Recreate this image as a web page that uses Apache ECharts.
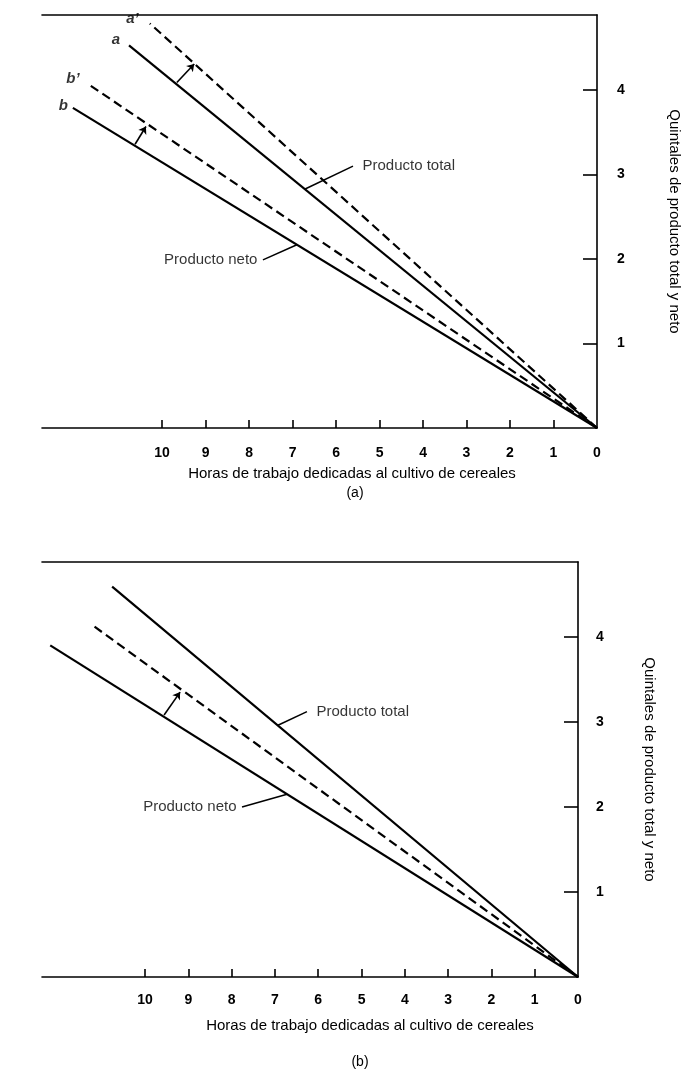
<!DOCTYPE html>
<html><head><meta charset="utf-8">
<script src="https://cdn.jsdelivr.net/npm/echarts@6/dist/echarts.min.js"></script>
<style>html,body{margin:0;padding:0;background:#fff}#c{width:683px;height:1073px}</style>
</head><body><div id="c"></div>
<script>
// ---- shared tick data ----
const xTickValues = [1, 2, 3, 4, 5, 6, 7, 8, 9, 10];
const xLabelValues = [0, 1, 2, 3, 4, 5, 6, 7, 8, 9, 10];
const yTickValues = [1, 2, 3, 4];
const xTitle = 'Horas de trabajo dedicadas al cultivo de cereales';
const yTitle = 'Quintales de producto total y neto';
const panelCaptions = ['(a)', '(b)'];
const leaderTexts = ['Producto total', 'Producto neto'];

// ---- panel (a): [hours, quintales] ----
const aTotal = [[0, 0], [10.76, 4.53]];
const aTotalShifted = [[0, 0], [10.28, 4.79]];
const aNetShifted = [[0, 0], [11.72, 4.08]];
const aNet = [[0, 0], [12.05, 3.79]];
const aTagNames = ['a’', 'a', 'b’', 'b'];
const aTagPoints = [[10.68, 4.84], [11.06, 4.60], [12.05, 4.13], [12.27, 3.81]];
const aArrows = [[[9.66, 4.09], [9.26, 4.31]], [[10.62, 3.36], [10.37, 3.57]]];
const aLeaders = [[[6.71, 2.83], [5.61, 3.10]], [[6.90, 2.17], [7.68, 1.99]]];

// ---- panel (b) ----
const bTotal = [[0, 0], [10.76, 4.59]];
const bNetShifted = [[0, 0], [11.25, 4.15]];
const bNet = [[0, 0], [12.19, 3.90]];
const bArrows = [[[9.56, 3.08], [9.19, 3.35]]];
const bLeaders = [[[6.93, 2.96], [6.26, 3.12]], [[6.72, 2.15], [7.76, 2.00]]];

const FONT = 'Liberation Sans';
const INK = '#000';

function bottomX(gi, max, margin) {
  return {
    type: 'value', gridIndex: gi, inverse: true, min: 0, max: max, position: 'bottom',
    axisLine: { show: true, onZero: false, lineStyle: { color: INK, width: 1.6 } },
    axisTick: { show: true, inside: true, length: 8, customValues: xTickValues, lineStyle: { color: INK, width: 1.6 } },
    axisLabel: { show: true, customValues: xLabelValues, margin: margin, color: INK, fontFamily: FONT, fontWeight: 'bold', fontSize: 14 },
    splitLine: { show: false }
  };
}
function topX(gi, max) {
  return {
    type: 'value', gridIndex: gi, inverse: true, min: 0, max: max, position: 'top',
    axisLine: { show: true, onZero: false, lineStyle: { color: INK, width: 1.6 } },
    axisTick: { show: false }, axisLabel: { show: false }, splitLine: { show: false }
  };
}
function rightY(gi, max, margin, gap) {
  return {
    type: 'value', gridIndex: gi, min: 0, max: max, position: 'right',
    name: yTitle, nameLocation: 'middle', nameRotate: -90, nameGap: gap,
    nameTextStyle: { color: INK, fontFamily: FONT, fontSize: 15 },
    axisLine: { show: true, onZero: false, lineStyle: { color: INK, width: 1.6 } },
    axisTick: { show: true, inside: true, length: 14, customValues: yTickValues, lineStyle: { color: INK, width: 1.6 } },
    axisLabel: { show: true, customValues: yTickValues, margin: margin, color: INK, fontFamily: FONT, fontWeight: 'bold', fontSize: 14 },
    splitLine: { show: false }
  };
}
function curve(data, dashed, gi) {
  return {
    type: 'line', xAxisIndex: gi * 2, yAxisIndex: gi, data: data, symbol: 'none', silent: true,
    lineStyle: { color: '#000', width: 2.2, type: dashed ? [9, 5] : 'solid' }
  };
}
function arrows(list, gi) {
  return {
    type: 'lines', coordinateSystem: 'cartesian2d', xAxisIndex: gi * 2, yAxisIndex: gi, silent: true,
    symbol: ['none', 'arrow'], symbolSize: 7,
    lineStyle: { color: '#000', width: 1.6, opacity: 1 },
    data: list.map(c => ({ coords: c }))
  };
}
function leaders(list, gi) {
  return {
    type: 'lines', coordinateSystem: 'cartesian2d', xAxisIndex: gi * 2, yAxisIndex: gi, silent: true,
    lineStyle: { color: '#000', width: 1.5, opacity: 1 },
    data: list.map(c => ({ coords: c }))
  };
}
function leaderLabels(list, gi) {
  return {
    type: 'scatter', xAxisIndex: gi * 2, yAxisIndex: gi, silent: true, symbolSize: 1,
    itemStyle: { color: 'rgba(0,0,0,0)' },
    data: list.map((c, i) => ({
      value: c[1],
      label: {
        show: true, position: i === 0 ? 'right' : 'left', distance: i === 0 ? 9 : 5,
        formatter: leaderTexts[i], color: INK, fontFamily: FONT, fontSize: 15
      }
    }))
  };
}
function tags(points, names, gi) {
  return {
    type: 'scatter', xAxisIndex: gi * 2, yAxisIndex: gi, silent: true, symbolSize: 1,
    itemStyle: { color: 'rgba(0,0,0,0)' },
    data: points.map((p, i) => ({
      value: p,
      label: { show: true, position: 'inside', formatter: names[i], color: INK, fontFamily: FONT, fontWeight: 'bold', fontStyle: 'italic', fontSize: 15 }
    }))
  };
}

const chart = echarts.init(document.getElementById('c'), null, { renderer: 'canvas' });
chart.setOption({
  animation: false,
  backgroundColor: '#fff',
  grid: [
    { left: 42, right: 86, top: 15, bottom: 645, outerBoundsMode: 'none', containLabel: false },
    { left: 42, right: 105, top: 562, bottom: 96, outerBoundsMode: 'none', containLabel: false }
  ],
  xAxis: [bottomX(0, 12.76, 18), topX(0, 12.76), bottomX(1, 12.38, 16), topX(1, 12.38)],
  yAxis: [rightY(0, 4.89, 20, 70), rightY(1, 4.88, 18, 64)],
  graphic: [
    { type: 'text', style: { text: xTitle, x: 352, y: 474, align: 'center', verticalAlign: 'middle', fill: INK, font: '15px "Liberation Sans"' } },
    { type: 'text', style: { text: panelCaptions[0], x: 355, y: 493, align: 'center', verticalAlign: 'middle', fill: INK, font: '14px "Liberation Sans"' } },
    { type: 'text', style: { text: xTitle, x: 370, y: 1026, align: 'center', verticalAlign: 'middle', fill: INK, font: '15px "Liberation Sans"' } },
    { type: 'text', style: { text: panelCaptions[1], x: 360, y: 1062, align: 'center', verticalAlign: 'middle', fill: INK, font: '14px "Liberation Sans"' } }
  ],
  series: [
    curve(aTotal, false, 0), curve(aTotalShifted, true, 0), curve(aNetShifted, true, 0), curve(aNet, false, 0),
    arrows(aArrows, 0), leaders(aLeaders, 0), leaderLabels(aLeaders, 0), tags(aTagPoints, aTagNames, 0),
    curve(bTotal, false, 1), curve(bNetShifted, true, 1), curve(bNet, false, 1),
    arrows(bArrows, 1), leaders(bLeaders, 1), leaderLabels(bLeaders, 1)
  ]
});
</script>
</body></html>
